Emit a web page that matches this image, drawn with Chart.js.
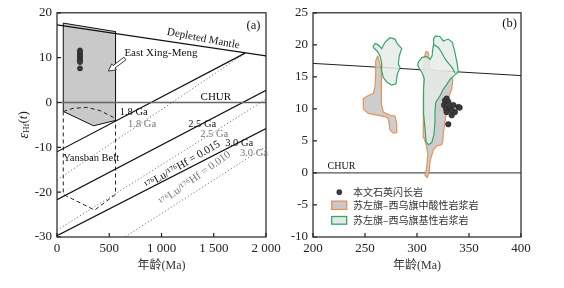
<!DOCTYPE html>
<html>
<head>
<meta charset="utf-8">
<script src="https://cdn.jsdelivr.net/npm/chart.js@4.4.1/dist/chart.umd.min.js"></script>
<style>
  body { margin: 0; background: #fff; }
  #wrap { position: relative; width: 564px; height: 288px; }
  canvas { position: absolute; top: 0; }
</style>
</head>
<body>
<div id="wrap">
  <canvas id="chartA" width="290" height="288" style="left:0"></canvas>
  <canvas id="chartB" width="274" height="288" style="left:290px"></canvas>
</div>
<script>
// ---- panel (a): age (Ma) vs eHf(t) ----
const ageTicksA = [0, 500, 1000, 1500, 2000];
const epsTicksA = [-30, -20, -10, 0, 10, 20];
const depletedMantleA = [[0, 17.3], [2000, 10.4]];
const churA = [[0, 0], [2000, 0]];
const crust18Solid = [[0, -11.0], [1800, 11.0]];
const crust25Solid = [[0, -21.7], [2000, 2.7]];
const crust30Solid = [[0, -29.7], [2000, -5.8]];
const crust18Dotted = [[0, -17.3], [1800, 11.0]];
const crust25Dotted = [[0, -28.5], [2000, 0.7]];
const crust30Dotted = [[650, -30], [2000, -9.8]];
const eastXingMeng = [[60, 17.7], [560, 15.8], [560, -4.0], [350, -5.2], [60, -2.0], [60, 17.7]];
const eastXingMengBase = [[60, -2.0], [156, -1.3], [284, -1.1], [411, -1.8], [539, -3.3], [560, -4.0]];
const yanshanBelt = [[60, -2.0], [60, -20.5], [360, -24.0], [560, -20.5], [560, -4.0]];
const samplesAgeA = [220, 220, 220, 220, 220, 220, 220, 220, 220];
const samplesEpsA = [11.6, 11.2, 10.8, 10.4, 10.1, 9.7, 9.3, 9.0, 7.6];

// ---- panel (b): age (Ma) vs eHf(t) ----
const ageTicksB = [200, 250, 300, 350, 400];
const epsTicksB = [-10, -5, 0, 5, 10, 15, 20, 25];
const depletedMantleB = [[200, 17.1], [400, 15.2]];
const churB = [[200, 0], [400, 0]];
const felsicLeft = [[262.2, 18.3], [264.4, 17.0], [266, 15.4], [265.4, 13.4], [266, 10.8], [267.6, 9.5], [274, 9.0],
  [278.8, 8.9], [280.5, 7.7], [280.5, 6.3], [277.2, 6.2], [274, 6.7], [272.4, 8.5], [269.2, 8.8], [253.2, 9.3],
  [248.4, 10.0], [248.4, 11.6], [253.2, 12.1], [258, 12.4], [259.6, 13.4], [260.3, 15.4], [260.3, 17.5], [262.2, 18.3]];
const felsicRight = [[308.7, 19.0], [310.9, 18.8], [311.8, 17.5], [312.5, 16.3], [318, 16.0], [328, 15.8], [333, 15.4],
  [334.3, 14.4], [333.4, 13.1], [330, 11.6], [328.5, 9.5], [326.9, 8.0], [325.3, 6.2], [324.7, 4.9], [323.7, 4.4],
  [318.9, 4.2], [315.7, 3.6], [312.5, 1.8], [311.8, 0.3], [309.9, -0.7], [307.7, -0.4], [309.3, 0.8], [310.5, 2.9],
  [309, 4.3], [306.7, 5.5], [306.1, 8.0], [306.1, 12.1], [307, 14.7], [306.1, 16.7], [306.7, 17.8], [308.7, 19.0]];
const maficLeft = [[258, 19.8], [259.6, 20.2], [262.8, 20.0], [266, 19.4], [269.2, 20.4], [274, 21.1], [278.8, 20.9],
  [281, 20.2], [285.3, 19.4], [283, 18.3], [282, 17.0], [283.7, 16.5], [281, 15.4], [279.8, 13.9], [275.7, 13.7],
  [270.9, 14.2], [267.6, 14.9], [266, 16.0], [266, 17.2], [264.4, 18.3], [261.8, 19.0], [258, 19.6], [258, 19.8]];
const maficRight = [[301.3, 17.3], [304.5, 18.0], [309.3, 18.2], [312.5, 17.7], [314.5, 18.3], [315.5, 19.8], [316, 21.0],
  [318, 21.4], [322, 21.3], [325.3, 20.6], [330, 20.9], [334, 20.4], [336.5, 18.8], [338.5, 17.2], [339.7, 15.8],
  [336.5, 15.3], [331.7, 14.6], [328.5, 13.8], [325.3, 13.1], [322, 12.0], [318, 11.0], [317.3, 9.5], [317.3, 8.0],
  [316.3, 6.0], [314.1, 4.7], [310.9, 4.4], [308.7, 4.9], [307.7, 7.0], [306.5, 9.0], [306.1, 11.1], [306.5, 13.1],
  [307, 14.7], [305, 15.6], [302.5, 16.2], [300.7, 16.8], [301.3, 17.3]];
const maficRightInner = [[315.7, 20.1], [320.5, 19.6], [323.7, 18.8], [327, 17.8], [330, 17.2], [334, 16.4], [336.5, 15.6]];
const samplesAgeB = [326.9, 328.5, 330.1, 326, 327.9, 331.7, 334.9, 339.7, 336.5, 333.4, 328.5, 330.1, 333.4, 341];
const samplesEpsB = [11.3, 11.6, 11.1, 10.6, 10.0, 10.3, 10.6, 10.3, 9.5, 9.0, 9.5, 7.6, 9.8, 10.2];
const legendLabelsB = ['本文石英闪长岩', '苏左旗–西乌旗中酸性岩浆岩', '苏左旗–西乌旗基性岩浆岩'];

const SERIF = "'Liberation Serif', 'Noto Sans CJK SC', serif";
Chart.defaults.font.family = SERIF;
Chart.defaults.color = '#222';

const toXY = pts => pts.map(([x, y]) => ({ x, y }));
const zipXY = (xs, ys) => xs.map((x, i) => ({ x, y: ys[i] }));

function lineSet(pts, color, width, dash, order) {
  return { data: toXY(pts), borderColor: color, borderWidth: width, borderDash: dash || [],
    pointRadius: 0, fill: false, tension: 0, order };
}
function shapeSet(pts, fillColor, stroke, width, order) {
  return { data: toXY(pts), backgroundColor: fillColor, borderColor: stroke, borderWidth: width,
    pointRadius: 0, fill: 'shape', tension: 0, order };
}
function dotSet(xs, ys, r) {
  return { data: zipXY(xs, ys), showLine: false, pointRadius: r, pointBackgroundColor: '#3a3a3a',
    pointBorderColor: '#222', pointBorderWidth: 0.5, order: 0 };
}

// box around the plot and short inward ticks
const frame = {
  id: 'frame',
  afterDraw(chart) {
    const { ctx, chartArea: a, scales: { x, y } } = chart;
    ctx.save();
    ctx.strokeStyle = '#222';
    ctx.lineWidth = 1.2;
    ctx.strokeRect(a.left, a.top, a.right - a.left, a.bottom - a.top);
    ctx.beginPath();
    x.ticks.forEach(t => { const p = x.getPixelForValue(t.value); ctx.moveTo(p, a.bottom); ctx.lineTo(p, a.bottom - 4); });
    y.ticks.forEach(t => { const p = y.getPixelForValue(t.value); ctx.moveTo(a.left, p); ctx.lineTo(a.left + 4, p); });
    ctx.stroke();
    ctx.restore();
  }
};

function helpers(chart) {
  const { ctx, scales: { x, y } } = chart;
  const P = (ax, ey) => [x.getPixelForValue(ax), y.getPixelForValue(ey)];
  const angleOf = pts => {
    const [x0, y0] = P(...pts[0]);
    const [x1, y1] = P(...pts[pts.length - 1]);
    return Math.atan2(y1 - y0, x1 - x0);
  };
  const put = (s, ax, ey, o = {}) => {
    const [px, py] = P(ax, ey);
    ctx.save();
    ctx.translate(px, py);
    ctx.rotate(o.angle || 0);
    ctx.font = (o.style || '') + ' ' + (o.size || 11) + 'px ' + (o.family || SERIF);
    ctx.fillStyle = o.color || '#111';
    ctx.textAlign = o.align || 'left';
    ctx.textBaseline = 'middle';
    ctx.fillText(s, 0, 0);
    ctx.restore();
  };
  return { ctx, P, angleOf, put };
}

const notesA = {
  id: 'notesA',
  afterDraw(chart) {
    const { ctx, P, angleOf, put } = helpers(chart);
    put('Depleted Mantle', 1400, 14.2, { align: 'center', angle: angleOf(depletedMantleA) + 0.04 });
    put('East Xing-Meng', 645, 11.0);
    put('CHUR', 1520, 1.3, { align: 'center' });
    put('1.8 Ga', 600, -2.2, { size: 10.5 });
    put('1.8 Ga', 680, -4.8, { size: 10.5, color: '#777' });
    put('2.5 Ga', 1255, -4.8, { size: 10.5 });
    put('2.5 Ga', 1370, -7.0, { size: 10.5, color: '#777' });
    put('3.0 Ga', 1610, -9.0, { size: 10.5 });
    put('3.0 Ga', 1750, -11.4, { size: 10.5, color: '#777' });
    put('(a)', 1880, 17.1, { align: 'center', size: 12.5 });
    put('Yansban Belt', 60, -12.4, { size: 10.5 });
    put('¹⁷⁶Lu/¹⁷⁶Hf = 0.015', 1200, -13.9, { align: 'center', angle: angleOf(crust30Solid) - 0.05 });
    put('¹⁷⁶Lu/¹⁷⁶Hf = 0.010', 1320, -16.9, { align: 'center', angle: angleOf(crust30Dotted) - 0.05, color: '#777' });

    // hollow arrow pointing into the East Xing-Meng field
    const [tx, ty] = P(650, 9.8), [hx, hy] = P(492, 7.0);
    const ang = Math.atan2(hy - ty, hx - tx), len = Math.hypot(hx - tx, hy - ty);
    ctx.save();
    ctx.translate(tx, ty);
    ctx.rotate(ang);
    ctx.beginPath();
    ctx.moveTo(0, -1.6); ctx.lineTo(len - 7, -1.6); ctx.lineTo(len - 7, -3.8); ctx.lineTo(len, 0);
    ctx.lineTo(len - 7, 3.8); ctx.lineTo(len - 7, 1.6); ctx.lineTo(0, 1.6); ctx.closePath();
    ctx.fillStyle = '#fff'; ctx.fill();
    ctx.strokeStyle = '#222'; ctx.lineWidth = 0.8; ctx.stroke();
    ctx.restore();

    // y axis title: eHf(t)
    const a = chart.chartArea;
    const parts = [['ε', 'italic 14px'], ['Hf', '9px'], ['(', '13px'], ['t', 'italic 13px'], [')', '13px']];
    ctx.save();
    ctx.translate(a.left - 33, (a.top + a.bottom) / 2);
    ctx.rotate(-Math.PI / 2);
    ctx.fillStyle = '#222';
    ctx.textBaseline = 'middle';
    let w = 0;
    parts.forEach(([s, f]) => { ctx.font = f + " 'Liberation Serif'"; w += ctx.measureText(s).width; });
    let cx = -w / 2;
    parts.forEach(([s, f]) => {
      ctx.font = f + " 'Liberation Serif'";
      ctx.fillText(s, cx, s === 'Hf' ? 3 : 0);
      cx += ctx.measureText(s).width;
    });
    ctx.restore();
  }
};

const notesB = {
  id: 'notesB',
  afterDraw(chart) {
    const { ctx, P, put } = helpers(chart);
    put('CHUR', 214, 1.0, { size: 10 });
    put('(b)', 389, 23.3, { align: 'center', size: 12.5 });

    // legend
    const [dx, dy] = P(225.3, -3.0);
    ctx.save();
    ctx.beginPath(); ctx.arc(dx, dy, 2.8, 0, Math.PI * 2);
    ctx.fillStyle = '#3a3a3a'; ctx.fill();
    const box = (y0, y1, fillC, strokeC) => {
      const [x0, p0] = P(218, y0), [x1, p1] = P(232.4, y1);
      ctx.fillStyle = fillC; ctx.fillRect(x0, p0, x1 - x0, p1 - p0);
      ctx.strokeStyle = strokeC; ctx.lineWidth = 1.3; ctx.strokeRect(x0, p0, x1 - x0, p1 - p0);
    };
    box(-4.4, -5.7, '#c9c9c9', '#e8925a');
    box(-6.8, -8.0, '#e3eae3', '#35a56a');
    ctx.restore();
    const fam = "'Noto Sans CJK SC', sans-serif";
    put(legendLabelsB[0], 238.5, -3.0, { size: 10, family: fam, color: '#333' });
    put(legendLabelsB[1], 238.5, -5.1, { size: 10, family: fam, color: '#333' });
    put(legendLabelsB[2], 238.5, -7.4, { size: 10, family: fam, color: '#333' });
  }
};

function scalesFor(xTicks, yTicks, xRange, yRange, yWidth, fmt) {
  return {
    x: {
      type: 'linear', min: xRange[0], max: xRange[1],
      grid: { display: false, drawTicks: false }, border: { display: false },
      afterBuildTicks: s => { s.ticks = xTicks.map(v => ({ value: v })); },
      ticks: { font: { size: 13 }, padding: 4, maxRotation: 0, color: '#222', callback: fmt },
      title: { display: true, text: '年龄(Ma)', font: { size: 12 }, color: '#333', padding: { top: 0, bottom: 15 } },
      afterFit: s => { s.height = 51; }
    },
    y: {
      type: 'linear', min: yRange[0], max: yRange[1],
      grid: { display: false, drawTicks: false }, border: { display: false },
      afterBuildTicks: s => { s.ticks = yTicks.map(v => ({ value: v })); },
      ticks: { font: { size: 13 }, padding: 5, color: '#222' },
      afterFit: s => { s.width = yWidth; }
    }
  };
}

const baseOpts = {
  responsive: false,
  animation: false,
  plugins: { legend: { display: false }, tooltip: { enabled: false } }
};

new Chart(document.getElementById('chartA'), {
  type: 'line',
  data: {
    datasets: [
      dotSet(samplesAgeA, samplesEpsA, 2.6),
      lineSet(depletedMantleA, '#111', 1.2, [], 2),
      lineSet(churA, '#666', 1.6, [], 2),
      lineSet(crust18Solid, '#111', 1.2, [], 2),
      lineSet(crust25Solid, '#111', 1.2, [], 2),
      lineSet(crust30Solid, '#111', 1.2, [], 2),
      lineSet(crust18Dotted, '#777', 1, [1.2, 2.2], 2),
      lineSet(crust25Dotted, '#777', 1, [1.2, 2.2], 2),
      lineSet(crust30Dotted, '#777', 1, [1.2, 2.2], 2),
      lineSet(eastXingMengBase, '#222', 1, [4, 3], 3),
      lineSet(yanshanBelt, '#222', 1, [4, 3], 3),
      shapeSet(eastXingMeng, '#c9c9c9', '#111', 1, 4)
    ]
  },
  options: {
    ...baseOpts,
    layout: { padding: { left: 0, right: 24, top: 9, bottom: 0 } },
    scales: scalesFor(ageTicksA, epsTicksA, [0, 2000], [-30, 20], 57,
      v => String(v).replace(/(\d)(\d{3})$/, '$1 $2'))
  },
  plugins: [frame, notesA]
});

new Chart(document.getElementById('chartB'), {
  type: 'line',
  data: {
    datasets: [
      dotSet(samplesAgeB, samplesEpsB, 2.8),
      lineSet(maficRightInner, '#35a56a', 1.2, [], 1),
      shapeSet(maficLeft, 'rgba(232,236,232,0.85)', '#35a56a', 1.2, 1),
      shapeSet(maficRight, 'rgba(232,236,232,0.85)', '#35a56a', 1.2, 1),
      shapeSet(felsicLeft, 'rgba(196,196,196,0.85)', '#e8925a', 1.2, 2),
      shapeSet(felsicRight, 'rgba(196,196,196,0.85)', '#e8925a', 1.2, 2),
      lineSet(depletedMantleB, '#222', 1, [], 3),
      lineSet(churB, '#555', 1.3, [], 3)
    ]
  },
  options: {
    ...baseOpts,
    layout: { padding: { left: 0, right: 43, top: 9, bottom: 0 } },
    scales: scalesFor(ageTicksB, epsTicksB, [200, 400], [-10, 25], 23, v => v)
  },
  plugins: [frame, notesB]
});
</script>
</body>
</html>
